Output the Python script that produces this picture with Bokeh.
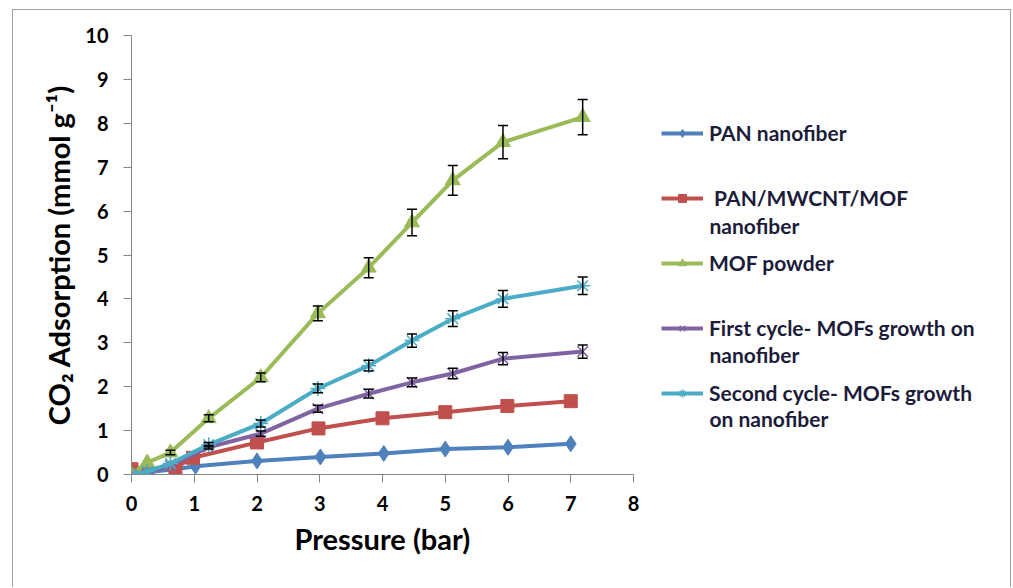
from bokeh.plotting import figure
from bokeh.models import (ColumnDataSource, Whisker, Legend, LegendItem, Range1d, TeeHead,
                          FixedTicker, Label, Title)
from bokeh.embed import file_html
from bokeh.resources import INLINE

# ---- data ----
x_ticks = [0, 1, 2, 3, 4, 5, 6, 7, 8]
y_ticks = [0, 1, 2, 3, 4, 5, 6, 7, 8, 9, 10]

pan_x = [0, 0.3, 0.7, 1.02, 2.0, 3.01, 4.02, 5.0, 6.0, 7.0]
pan_y = [0.02, 0.06, 0.12, 0.19, 0.31, 0.4, 0.48, 0.58, 0.62, 0.7]

composite_x = [0, 0.7, 0.98, 2.0, 2.98, 4.0, 5.0, 5.99, 7.0]
composite_y = [0.12, 0.16, 0.38, 0.73, 1.05, 1.28, 1.42, 1.56, 1.67]

mof_x = [0, 0.25, 0.62, 1.23, 2.06, 2.97, 3.78, 4.47, 5.12, 5.92, 7.19]
mof_y = [0, 0.27, 0.5, 1.28, 2.21, 3.67, 4.71, 5.74, 6.70, 7.57, 8.14]
mof_err = [0, 0, 0.05, 0.08, 0.1, 0.17, 0.23, 0.3, 0.34, 0.38, 0.4]

first_y = [0, 0.05, 0.2, 0.62, 0.93, 1.5, 1.84, 2.1, 2.3, 2.64, 2.8]
first_err = [0, 0, 0, 0.04, 0.06, 0.08, 0.1, 0.1, 0.12, 0.14, 0.15]

second_y = [0, 0.07, 0.25, 0.68, 1.16, 1.96, 2.48, 3.05, 3.55, 4.0, 4.3]
second_err = [0, 0, 0, 0.05, 0.08, 0.1, 0.12, 0.15, 0.18, 0.19, 0.2]

label_first_lines = ["PAN nanofiber", " PAN/MWCNT/MOF", "MOF powder",
                     "First cycle- MOFs growth on", "Second cycle- MOFs growth"]
label_second_lines = ["", "nanofiber", "", "nanofiber", "on nanofiber"]
colors = ["#4F81BD", "#C0504D", "#9BBB59", "#8064A2", "#4BACC6"]

FONT = "Lato"
TEXT_COLOR = "#1c1c3a"

# layout (pixels)
BORDER_L, BORDER_T, BORDER_R = 118, 25, 5
AXIS_W = 502          # pixel length of the 0..8 pressure axis
FRAME_W, FRAME_H = 874, 439
X_MAX = 8
x_end = X_MAX * FRAME_W / AXIS_W   # frame extends to the right to hold the legend

p = figure(frame_width=FRAME_W, frame_height=FRAME_H,
           x_range=Range1d(0, x_end), y_range=Range1d(0, 10),
           min_border_left=BORDER_L, min_border_top=BORDER_T, min_border_right=BORDER_R,
           min_border_bottom=113,
           output_backend="svg", toolbar_location=None)
p.styles = {"border": "1px solid #a0a0a0", "border-bottom": "none",
            "margin-left": "12px", "margin-top": "9px"}
p.outline_line_color = None
p.grid.visible = False
p.background_fill_color = "white"
p.border_fill_color = "white"

for ax in (p.xaxis[0], p.yaxis[0]):
    ax.axis_line_color = "#868686"
    ax.major_tick_line_color = "#868686"
    ax.major_tick_out = 8
    ax.major_tick_in = 0
    ax.minor_tick_line_color = None
    ax.major_label_text_font = FONT
    ax.major_label_text_font_style = "bold"
    ax.major_label_text_font_size = "20px"
    ax.major_label_text_color = "black"
    ax.axis_label_text_font = FONT
    ax.axis_label_text_font_style = "bold"
    ax.axis_label_text_font_size = "29px"
    ax.axis_label_text_color = "black"

p.xaxis.ticker = FixedTicker(ticks=x_ticks)
p.yaxis.ticker = FixedTicker(ticks=y_ticks)
p.xaxis.bounds = (0, X_MAX)
p.yaxis.axis_label = "CO\u2082 Adsorption (mmol g\u207b\u00b9)"
p.xaxis.major_label_standoff = 13
p.yaxis.major_label_standoff = 15
p.yaxis.axis_label_standoff = 6

# x-axis title centred under the 0..8 part of the axis
p.add_layout(Title(text="Pressure (bar)", align="left", offset=AXIS_W / 2 - 88,
                   text_font=FONT, text_font_style="bold", text_font_size="29px",
                   text_color="black", standoff=10), "below")

LW = 4
items = []

r1 = p.line(pan_x, pan_y, line_color=colors[0], line_width=LW)
m1 = p.scatter(pan_x, pan_y, marker="diamond", size=16, color=colors[0])
items.append(LegendItem(label=label_first_lines[0], renderers=[r1, m1]))

r2 = p.line(composite_x, composite_y, line_color=colors[1], line_width=LW)
m2 = p.scatter(composite_x, composite_y, marker="square", size=13, color=colors[1])
items.append(LegendItem(label=label_first_lines[1], renderers=[r2, m2]))

r3 = p.line(mof_x, mof_y, line_color=colors[2], line_width=LW)
m3 = p.scatter(mof_x, mof_y, marker="triangle", size=15, color=colors[2])
items.append(LegendItem(label=label_first_lines[2], renderers=[r3, m3]))

r4 = p.line(mof_x, first_y, line_color=colors[3], line_width=LW)
m4 = p.scatter(mof_x, first_y, marker="x", size=15, line_color=colors[3], line_width=1.5)
items.append(LegendItem(label=label_first_lines[3], renderers=[r4, m4]))

r5 = p.line(mof_x, second_y, line_color=colors[4], line_width=LW)
m5 = p.scatter(mof_x, second_y, marker="asterisk", size=15, line_color=colors[4], line_width=1.5)
items.append(LegendItem(label=label_first_lines[4], renderers=[r5, m5]))

def add_err(xs, ys, es):
    pts = [(x, y, e) for x, y, e in zip(xs, ys, es) if e > 0]
    src = ColumnDataSource(dict(x=[a for a, _, _ in pts],
                                lower=[b - c for _, b, c in pts],
                                upper=[b + c for _, b, c in pts]))
    w = Whisker(base="x", lower="lower", upper="upper", source=src, dimension="height",
                line_color="black", line_width=1.5, level="overlay",
                upper_head=TeeHead(size=10, line_color="black", line_width=1.5),
                lower_head=TeeHead(size=10, line_color="black", line_width=1.5))
    p.add_layout(w)

add_err(mof_x, mof_y, mof_err)
add_err(mof_x, first_y, first_err)
add_err(mof_x, second_y, second_err)

# legend inside the (widened) frame, right of the 0..8 axis
LEG_X = AXIS_W + 28
PITCH = 65
legend = Legend(items=items, location=(LEG_X, 69))
legend.border_line_color = None
legend.background_fill_alpha = 0
legend.label_text_font = FONT
legend.label_text_font_style = "bold"
legend.label_text_font_size = "21px"
legend.label_text_color = TEXT_COLOR
legend.glyph_width = 42
legend.glyph_height = 20
legend.label_height = 25
legend.label_standoff = 6
legend.spacing = PITCH - 25
legend.padding = 0
legend.margin = 0
p.add_layout(legend, "center")

# second lines of the wrapped legend labels
first_center_from_bottom = FRAME_H - 98
LABEL_PITCH = 64.3
for i, txt in enumerate(label_second_lines):
    if not txt:
        continue
    lab = Label(x=LEG_X + 42 + 6, y=first_center_from_bottom - i * LABEL_PITCH - 28,
                x_units="screen", y_units="screen", text=txt,
                text_font=FONT, text_font_style="bold", text_font_size="21px",
                text_color=TEXT_COLOR, text_baseline="middle", text_align="left")
    p.add_layout(lab)

open("out.html", "w").write(file_html(p, INLINE))
